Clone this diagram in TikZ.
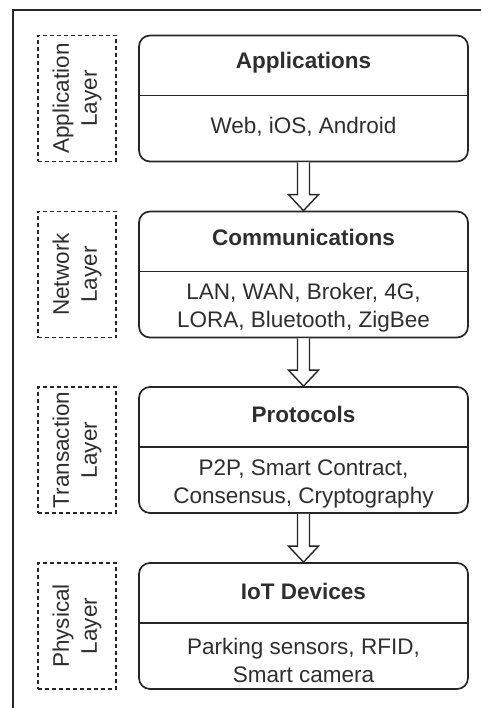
\documentclass[tikz,border=0pt]{standalone}
\usepackage{fontspec}
\setmainfont{Liberation Sans}
\usetikzlibrary{calc}
\definecolor{ink}{HTML}{2E2E2E}
\begin{document}
\begin{tikzpicture}[x=1pt,y=-1pt,
  txt/.style={font=\fontsize{22.5}{28}\selectfont, text=ink, align=center, inner sep=0pt},
  layerbox/.style={draw=black!85, rounded corners=11pt, line width=1.7pt,
    minimum width=329pt, minimum height=126pt, inner sep=0pt},
  sidebox/.style={draw=black!85, dash pattern=on 4pt off 3pt, line width=1.5pt,
    minimum width=78pt, minimum height=126pt, inner sep=0pt},
  boxtitle/.style={txt, font=\fontsize{22.5}{28}\selectfont\bfseries},
  boxbody/.style={txt},
  sidelabel/.style={txt, rotate=90},
  flow/.style={draw=black!85, line width=1.4pt, fill=white, line join=miter}
]
\useasboundingbox (0,0) rectangle (481,708);

% outer frame
\draw[line width=1.7pt, black!85] (13,708) -- (13,10) -- (481,10);

% stack of layers
\node[layerbox] (app)   at (303.5, 98.5) {};
\node[layerbox] (net)   at (303.5,274.5) {};
\node[layerbox] (trans) at (303.5,450)   {};
\node[layerbox] (phys)  at (303.5,626)   {};

% side captions
\node[sidebox] (sapp)   at (77, 98.5) {};
\node[sidebox] (snet)   at (77,274.5) {};
\node[sidebox] (strans) at (77,450)   {};
\node[sidebox] (sphys)  at (77,626)   {};
\node[sidelabel] (lapp)   at (sapp)   {Application\\Layer};
\node[sidelabel] (lnet)   at (snet)   {Network\\Layer};
\node[sidelabel] (ltrans) at (strans) {Transaction\\Layer};
\node[sidelabel] (lphys)  at (sphys)  {Physical\\Layer};

% divider lines, titles and contents
\foreach \b in {app,net,trans,phys}{
  \draw[line width=1.5pt, black!85] ($(\b.north west)+(0,61)$) -- ($(\b.north east)+(0,61)$);
}
\node[boxtitle] (tapp)   at ($(app.north)+(0,28)$)   {Applications};
\node[boxtitle] (tnet)   at ($(net.north)+(0,27)$)   {Communications};
\node[boxtitle] (ttrans) at ($(trans.north)+(0,28)$) {Protocols};
\node[boxtitle] (tphys)  at ($(phys.north)+(0,29)$)  {IoT Devices};

\node[boxbody] (bapp)   at ($(app.north)+(0,92)$)   {Web, iOS, Android};
\node[boxbody] (bnet)   at ($(net.north)+(0,97)$)   {LAN, WAN, Broker, 4G,\\LORA, Bluetooth, ZigBee};
\node[boxbody] (btrans) at ($(trans.north)+(0,98)$) {P2P, Smart Contract,\\Consensus, Cryptography};
\node[boxbody] (bphys)  at ($(phys.north)+(0,98)$)  {Parking sensors, RFID,\\Smart camera};

% hollow block arrows between layers
\foreach \a/\b in {app/net, net/trans, trans/phys}{
  \draw[flow] ($(\a.south)+(-6,0)$) -- ($(\b.north)+(-6,-16)$) -- ($(\b.north)+(-15,-16)$)
    -- (\b.north) -- ($(\b.north)+(15,-16)$) -- ($(\b.north)+(6,-16)$) -- ($(\a.south)+(6,0)$);
}
\end{tikzpicture}
\end{document}
